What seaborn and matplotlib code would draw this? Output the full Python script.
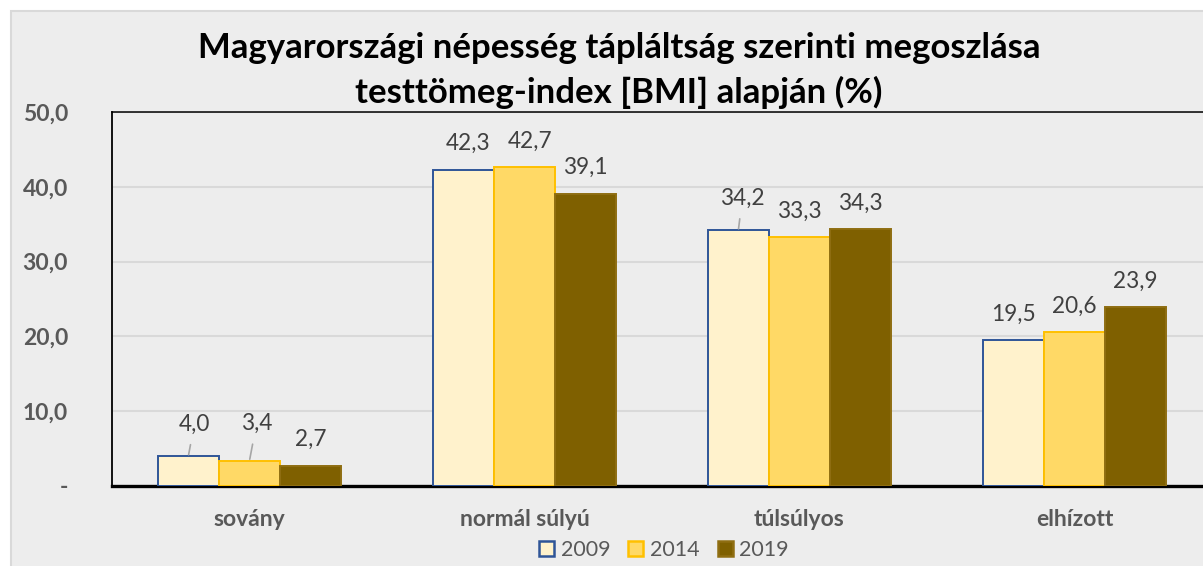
"""
Magyarországi népesség tápláltság szerinti megoszlása (BMI alapján)
Grouped bar chart recreated with seaborn.
"""

import matplotlib
matplotlib.use("Agg")

import matplotlib.pyplot as plt
import pandas as pd
import seaborn as sns
from matplotlib.patches import Patch, Rectangle
from matplotlib.ticker import FuncFormatter

# ==========================================================
# Data
# ==========================================================

CATEGORIES = ["sovány", "normál súlyú", "túlsúlyos", "elhízott"]

YEARS = ["2009", "2014", "2019"]

VALUES_2009 = [4.0, 42.3, 34.2, 19.5]
VALUES_2014 = [3.4, 42.7, 33.3, 20.6]
VALUES_2019 = [2.7, 39.1, 34.3, 23.9]

Y_TICKS = [0, 10, 20, 30, 40, 50]

TITLE_LINES = [
    "Magyarországi népesség tápláltság szerinti megoszlása",
    "testtömeg-index [BMI] alapján (%)",
]

# ==========================================================
# Style
# ==========================================================

FACE_COLORS = {"2009": "#FFF2CC", "2014": "#FFD966", "2019": "#7F6000"}
EDGE_COLORS = {"2009": "#2F5597", "2014": "#FFC000", "2019": "#8F6E12"}

BG = "#EDEDED"
GRID = "#D9D9D9"
TICK_COLOR = "#595959"
LABEL_COLOR = "#404040"

FONT = ["Lato", "DejaVu Sans"]

W, H = 1203, 566

# label nudges in pixels (dx, height of label centre above bar top)
DEFAULT_NUDGE = (0, 26)
LABEL_NUDGE = {
    ("sovány", "2009"): (6, 32),
    ("sovány", "2014"): (7, 37),
    ("normál súlyú", "2009"): (5, 26),
    ("normál súlyú", "2014"): (6, 25),
    ("túlsúlyos", "2009"): (4, 32),
}
LEADER_LINES = [("sovány", "2009"), ("sovány", "2014"), ("túlsúlyos", "2009")]


def px(v):
    # pixels -> points at dpi 100
    return v * 0.72


def main():

    df = pd.DataFrame({
        "category": CATEGORIES * 3,
        "year": [y for y in YEARS for _ in CATEGORIES],
        "value": VALUES_2009 + VALUES_2014 + VALUES_2019,
    })

    sns.set_style("white")
    plt.rcParams["font.family"] = FONT

    fig = plt.figure(figsize=(W / 100, H / 100), dpi=100, facecolor="white")

    # outer chart area with thin grey frame
    fig.patches.append(Rectangle(
        (11 / W, -0.1), 1.2, 1 - 11 / H + 0.1,
        transform=fig.transFigure, facecolor=BG,
        edgecolor=GRID, linewidth=1.5, zorder=-10
    ))

    left, top, bottom = 112 / W, 1 - 112 / H, 1 - 486 / H
    ax = fig.add_axes([left, bottom, 1100 / W, top - bottom])
    ax.set_facecolor("none")

    sns.barplot(
        data=df, x="category", y="value", hue="year",
        order=CATEGORIES, hue_order=YEARS,
        palette=FACE_COLORS, width=0.667, saturation=1,
        legend=False, ax=ax, zorder=3
    )

    ax.set_xlim(-0.5, 3.5)
    ax.set_ylim(0, 50)
    ax.set_yticks(Y_TICKS)
    ax.yaxis.set_major_formatter(FuncFormatter(
        lambda v, _: "-" if v == 0 else f"{v:.1f}".replace(".", ",")
    ))
    ax.grid(axis="y", color=GRID, linewidth=1.5, zorder=0)
    ax.set_axisbelow(True)

    ax.set_xlabel("")
    ax.set_ylabel("")
    ax.tick_params(length=0)
    ax.tick_params(axis="y", pad=px(44), labelsize=16.5, labelcolor=TICK_COLOR)
    ax.tick_params(axis="x", pad=px(23), labelsize=16.5, labelcolor=TICK_COLOR)
    for lab in ax.get_xticklabels() + ax.get_yticklabels():
        lab.set_fontweight("bold")

    for side in ["left", "top", "bottom", "right"]:
        ax.spines[side].set_color("black")
    ax.spines["left"].set_linewidth(1.3)
    ax.spines["top"].set_linewidth(1.1)
    ax.spines["bottom"].set_linewidth(2.4)

    # ------------------------------------------------------
    # Bar outlines and data labels
    # ------------------------------------------------------

    for year, container in zip(YEARS, ax.containers):
        for cat, bar in zip(CATEGORIES, container):
            bar.set_edgecolor(EDGE_COLORS[year])
            bar.set_linewidth(1.4)
            x = bar.get_x() + bar.get_width() / 2
            h = bar.get_height()
            dx, dy = LABEL_NUDGE.get((cat, year), DEFAULT_NUDGE)
            arrow = None
            if (cat, year) in LEADER_LINES:
                arrow = dict(arrowstyle="-", color="#A6A6A6", lw=1.2,
                             shrinkA=5, shrinkB=1)
            ax.annotate(
                f"{h:.1f}".replace(".", ","),
                xy=(x, h), xytext=(px(dx), px(dy)),
                textcoords="offset points", ha="center", va="center",
                fontsize=16.3, color=LABEL_COLOR, arrowprops=arrow,
                annotation_clip=False
            )

    # ------------------------------------------------------
    # Title and legend
    # ------------------------------------------------------

    fig.text(619 / W, 1 - 48 / H, TITLE_LINES[0], ha="center", va="center",
             fontsize=25, fontweight="bold", color="black")
    fig.text(619 / W, 1 - 92 / H, TITLE_LINES[1], ha="center", va="center",
             fontsize=25, fontweight="bold", color="black")

    handles = [
        Patch(facecolor=FACE_COLORS[y], edgecolor=EDGE_COLORS[y], linewidth=1.8)
        for y in YEARS
    ]
    fig.legend(
        handles, YEARS, loc="center", bbox_to_anchor=(664 / W, 1 - 550 / H),
        ncol=3, frameon=False, fontsize=15.5, labelcolor=TICK_COLOR,
        handlelength=0.7, handleheight=0.7, handletextpad=0.3,
        columnspacing=0.85
    )

    fig.savefig("out.png", dpi=100, facecolor=fig.get_facecolor())
    plt.close(fig)


if __name__ == "__main__":

    main()
